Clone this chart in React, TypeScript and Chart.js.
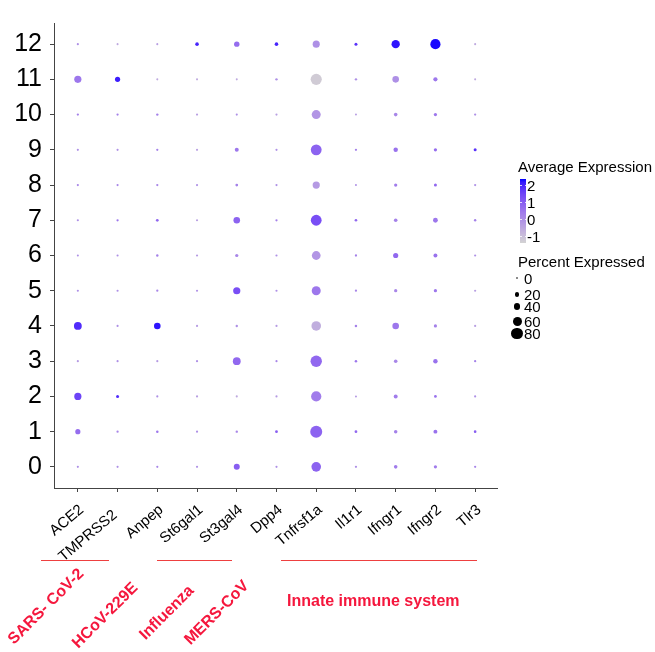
import React, { useEffect, useRef } from "react";
import { Chart, registerables } from "chart.js";

Chart.register(...registerables);

// ---------------- data ----------------
const genes = [
  "ACE2",
  "TMPRSS2  ",
  "Anpep",
  "St6gal1",
  "St3gal4",
  "Dpp4",
  "Tnfrsf1a",
  "Il1r1",
  "Ifngr1",
  "Ifngr2",
  "Tlr3",
];

const clusters = [0, 1, 2, 3, 4, 5, 6, 7, 8, 9, 10, 11, 12];

// percent expressed, one row per cluster (0..12), columns follow `genes`
const percentExpressed = [
  [3, 3, 3, 3, 35, 3, 65, 4, 15, 12, 4],
  [28, 4, 6, 3, 5, 8, 85, 8, 14, 18, 7],
  [45, 10, 3, 3, 3, 3, 70, 2, 18, 8, 3],
  [3, 3, 3, 3, 50, 3, 80, 6, 15, 22, 4],
  [50, 3, 40, 3, 5, 3, 65, 6, 40, 12, 3],
  [3, 3, 4, 3, 45, 3, 60, 4, 12, 12, 3],
  [2, 3, 5, 3, 12, 3, 58, 4, 28, 18, 3],
  [3, 4, 8, 3, 40, 4, 75, 7, 15, 25, 5],
  [3, 3, 4, 3, 8, 3, 45, 2, 12, 10, 3],
  [3, 3, 4, 3, 18, 3, 75, 4, 22, 12, 10],
  [4, 4, 5, 3, 3, 3, 60, 2, 15, 12, 4],
  [45, 28, 2, 2, 2, 5, 78, 5, 40, 20, 2],
  [3, 2, 2, 15, 30, 15, 44, 10, 54, 70, 2],
];

// scaled average expression, one row per cluster (0..12)
const averageExpression = [
  [0, 0, 0.2, 0, 1.0, 0, 0.9, 0, 0.4, 0.4, 0.2],
  [0.7, 0.2, 0.5, 0, 0.2, 1.0, 0.9, 0.8, 0.3, 0.6, 1.0],
  [1.5, 1.9, 0, -0.3, -0.5, -0.2, 0.4, -0.2, 0.4, 0.6, 0],
  [-0.2, 0, -0.2, 0, 0.8, 0.2, 0.8, 0.5, 0.2, 0.6, 0.3],
  [1.9, 0, 2.2, -0.2, 0, -0.2, -0.6, 0.3, 0.5, 0.3, -0.3],
  [0, 0, 0.2, 0, 1.3, 0, 0.5, 0.2, 0.2, 0.5, -0.3],
  [0, 0, 0.3, -0.2, 0.2, 0, -0.1, 0.3, 0.8, 0.6, 0],
  [0, 0.5, 0.8, -0.3, 0.9, 0.3, 1.3, 0.8, 0.3, 0.5, 0.3],
  [0.2, 0.2, 0.2, 0, 0.3, 0, -0.2, 0, 0.4, 0.8, 0],
  [0, 0, 0.3, -0.3, 0.5, 0, 0.9, 0.3, 0.6, 0.7, 1.8],
  [0.3, 0.3, 0.3, -0.3, 0, -0.3, -0.1, -0.3, 0.2, 0.5, 0],
  [0.5, 2.1, -0.5, -0.5, -0.5, 0, -1.2, 0, 0, 0.5, -0.5],
  [0, -0.5, -0.3, 2, 0.7, 2, 0, 1.8, 2.2, 2.3, -0.5],
];

const colorDomain = [-1.35, 2.35];
const colorbarTicks = [2, 1, 0, -1];
const sizeBreaks = [0, 20, 40, 60, 80];
const sizeLegendY = [278, 294.5, 306.5, 321.5, 333.5];

const groupLabels = ["SARS- CoV-2", "HCoV-229E", "Influenza", "MERS-CoV"];
const groupLabelEnds = [
  [81, 571],
  [135, 585],
  [191, 588],
  [246, 583],
];
const innateLabel = "Innate immune system";
const groupLines = [
  [41, 109],
  [157, 232],
  [281, 477],
];

// ---------------- helpers ----------------
const FONT = "'Liberation Sans', Arial, Helvetica, sans-serif";
const RED = "#f5173d";

function toLin(c: number) {
  c /= 255;
  return c <= 0.04045 ? c / 12.92 : Math.pow((c + 0.055) / 1.055, 2.4);
}
function fromLin(c: number) {
  const v = c <= 0.0031308 ? 12.92 * c : 1.055 * Math.pow(c, 1 / 2.4) - 0.055;
  return Math.max(0, Math.min(255, Math.round(v * 255)));
}
const Xn = 0.95047,
  Yn = 1,
  Zn = 1.08883;
function f(t: number) {
  return t > 216 / 24389 ? Math.cbrt(t) : ((24389 / 27) * t + 16) / 116;
}
function finv(t: number) {
  const t3 = t * t * t;
  return t3 > 216 / 24389 ? t3 : (116 * t - 16) / (24389 / 27);
}
function rgbToLab(rgb: number[]) {
  const R = toLin(rgb[0]),
    G = toLin(rgb[1]),
    B = toLin(rgb[2]);
  const X = 0.4124564 * R + 0.3575761 * G + 0.1804375 * B;
  const Y = 0.2126729 * R + 0.7151522 * G + 0.072175 * B;
  const Z = 0.0193339 * R + 0.119192 * G + 0.9503041 * B;
  const fx = f(X / Xn),
    fy = f(Y / Yn),
    fz = f(Z / Zn);
  return [116 * fy - 16, 500 * (fx - fy), 200 * (fy - fz)];
}
function labToRgb(lab: number[]) {
  const fy = (lab[0] + 16) / 116;
  const fx = fy + lab[1] / 500;
  const fz = fy - lab[2] / 200;
  const X = finv(fx) * Xn,
    Y = finv(fy) * Yn,
    Z = finv(fz) * Zn;
  const R = 3.2404542 * X - 1.5371385 * Y - 0.4985314 * Z;
  const G = -0.969266 * X + 1.8760108 * Y + 0.041556 * Z;
  const B = 0.0556434 * X - 0.2040259 * Y + 1.0572252 * Z;
  return [fromLin(R), fromLin(G), fromLin(B)];
}
const LOW_LAB = rgbToLab([211, 211, 211]);
const HIGH_LAB = rgbToLab([0, 0, 255]);
function colorAt(t: number) {
  t = Math.max(0, Math.min(1, t));
  const lab = LOW_LAB.map((v, i) => v + (HIGH_LAB[i] - v) * t);
  const c = labToRgb(lab);
  return `rgb(${c[0]},${c[1]},${c[2]})`;
}
function expColor(v: number) {
  return colorAt((v - colorDomain[0]) / (colorDomain[1] - colorDomain[0]));
}
function radius(p: number) {
  return 0.9 + 0.06 * p;
}

// colorbar geometry
const CB_LEFT = 520;
const CB_TOP = 179;
const CB_W = 6;
const CB_H = 64;
function cbY(v: number) {
  return CB_TOP + CB_H - ((v - colorDomain[0]) / (colorDomain[1] - colorDomain[0])) * CB_H;
}

export default function App() {
  const ref = useRef<HTMLCanvasElement | null>(null);

  useEffect(() => {
    if (!ref.current) return;
    const points: { x: number; y: number }[] = [];
    const radii: number[] = [];
    const colors: string[] = [];
    clusters.forEach((c, ci) => {
      genes.forEach((_, gi) => {
        points.push({ x: gi, y: c });
        radii.push(radius(percentExpressed[ci][gi]));
        colors.push(expColor(averageExpression[ci][gi]));
      });
    });

    const chart = new Chart(ref.current, {
      type: "scatter",
      data: {
        datasets: [
          {
            data: points,
            pointRadius: radii,
            pointHoverRadius: radii,
            pointBackgroundColor: colors,
            pointBorderColor: colors,
            pointBorderWidth: 0,
          },
        ],
      },
      options: {
        responsive: false,
        animation: false,
        devicePixelRatio: 1,
        events: [],
        layout: { padding: { top: 15, right: 158, bottom: 0, left: 0 } },
        plugins: { legend: { display: false }, tooltip: { enabled: false } },
        scales: {
          x: {
            type: "linear",
            min: -0.6,
            max: 10.55,
            afterBuildTicks: (s: any) => {
              s.ticks = genes.map((_, i) => ({ value: i }));
            },
            afterFit: (s: any) => {
              s.height = 164;
            },
            ticks: {
              autoSkip: false,
              maxRotation: 40,
              minRotation: 40,
              padding: 9,
              labelOffset: 4,
              color: "#000",
              font: { family: FONT, size: 15 },
              callback: (v: any) => genes[Math.round(Number(v))] ?? "",
            },
            grid: {
              drawOnChartArea: false,
              drawTicks: true,
              tickLength: 4,
              color: "#444",
            },
            border: { display: true, color: "#444", width: 1 },
          },
          y: {
            type: "linear",
            min: -0.6,
            max: 12.6,
            afterBuildTicks: (s: any) => {
              s.ticks = clusters.map((c) => ({ value: c }));
            },
            afterFit: (s: any) => {
              s.width = 54;
            },
            ticks: {
              padding: 8,
              color: "#000",
              font: { family: FONT, size: 25 },
              callback: (v: any) => String(Math.round(Number(v))),
            },
            grid: {
              drawOnChartArea: false,
              drawTicks: true,
              tickLength: 4,
              color: "#444",
            },
            border: { display: true, color: "#444", width: 1 },
          },
        },
      },
    });
    return () => chart.destroy();
  }, []);

  const gradStops: string[] = [];
  for (let i = 0; i <= 20; i++) {
    gradStops.push(`${colorAt(1 - i / 20)} ${(i / 20) * 100}%`);
  }

  const textBase: React.CSSProperties = {
    position: "absolute",
    fontFamily: FONT,
    fontSize: 15,
    lineHeight: "17px",
    color: "#000",
    whiteSpace: "nowrap",
  };

  return (
    <div
      style={{
        position: "fixed",
        left: 0,
        top: 0,
        width: 655,
        height: 652,
        background: "#fff",
        overflow: "hidden",
      }}
    >
      <canvas
        ref={ref}
        width={655}
        height={652}
        style={{ position: "absolute", left: 0, top: 0, width: 655, height: 652 }}
      />

      {/* Average Expression legend */}
      <div style={{ ...textBase, left: 518, top: 158 }}>Average Expression</div>
      <div
        style={{
          position: "absolute",
          left: CB_LEFT,
          top: CB_TOP,
          width: CB_W,
          height: CB_H,
          background: `linear-gradient(to bottom, ${gradStops.join(", ")})`,
        }}
      />
      {colorbarTicks.map((t) => (
        <React.Fragment key={"cbt" + t}>
          <div
            style={{
              position: "absolute",
              left: CB_LEFT,
              top: cbY(t) - 0.5,
              width: 1.5,
              height: 1,
              background: "rgba(255,255,255,0.8)",
            }}
          />
          <div
            style={{
              position: "absolute",
              left: CB_LEFT + CB_W - 1.5,
              top: cbY(t) - 0.5,
              width: 1.5,
              height: 1,
              background: "rgba(255,255,255,0.8)",
            }}
          />
          <div style={{ ...textBase, left: 527, top: cbY(t) - 8.5 }}>{String(t)}</div>
        </React.Fragment>
      ))}

      {/* Percent Expressed legend */}
      <div style={{ ...textBase, left: 518, top: 253 }}>Percent Expressed</div>
      {sizeBreaks.map((b, i) => {
        const r = b === 0 ? 0.7 : radius(b);
        return (
          <React.Fragment key={"sb" + b}>
            <div
              style={{
                position: "absolute",
                left: 517 - r,
                top: sizeLegendY[i] - r,
                width: 2 * r,
                height: 2 * r,
                borderRadius: "50%",
                background: b === 0 ? "#777" : "#000",
              }}
            />
            <div style={{ ...textBase, left: 524, top: sizeLegendY[i] - 8.5 }}>{String(b)}</div>
          </React.Fragment>
        );
      })}

      {/* group annotations */}
      {groupLines.map((l, i) => (
        <div
          key={"gl" + i}
          style={{
            position: "absolute",
            left: l[0],
            top: 559.5,
            width: l[1] - l[0],
            height: 1.3,
            background: "#ee4040",
          }}
        />
      ))}
      {groupLabels.map((g, i) => (
        <div
          key={"g" + i}
          style={{
            position: "absolute",
            left: groupLabelEnds[i][0],
            top: groupLabelEnds[i][1],
            fontFamily: FONT,
            fontSize: 16,
            fontWeight: "bold",
            lineHeight: "18px",
            color: RED,
            whiteSpace: "nowrap",
            transformOrigin: "100% 50%",
            transform: "translate(-100%, -50%) rotate(-45deg)",
          }}
        >
          {g}
        </div>
      ))}
      <div
        style={{
          position: "absolute",
          left: 287,
          top: 592,
          fontFamily: FONT,
          fontSize: 16,
          fontWeight: "bold",
          lineHeight: "18px",
          color: RED,
          whiteSpace: "nowrap",
        }}
      >
        {innateLabel}
      </div>
    </div>
  );
}
